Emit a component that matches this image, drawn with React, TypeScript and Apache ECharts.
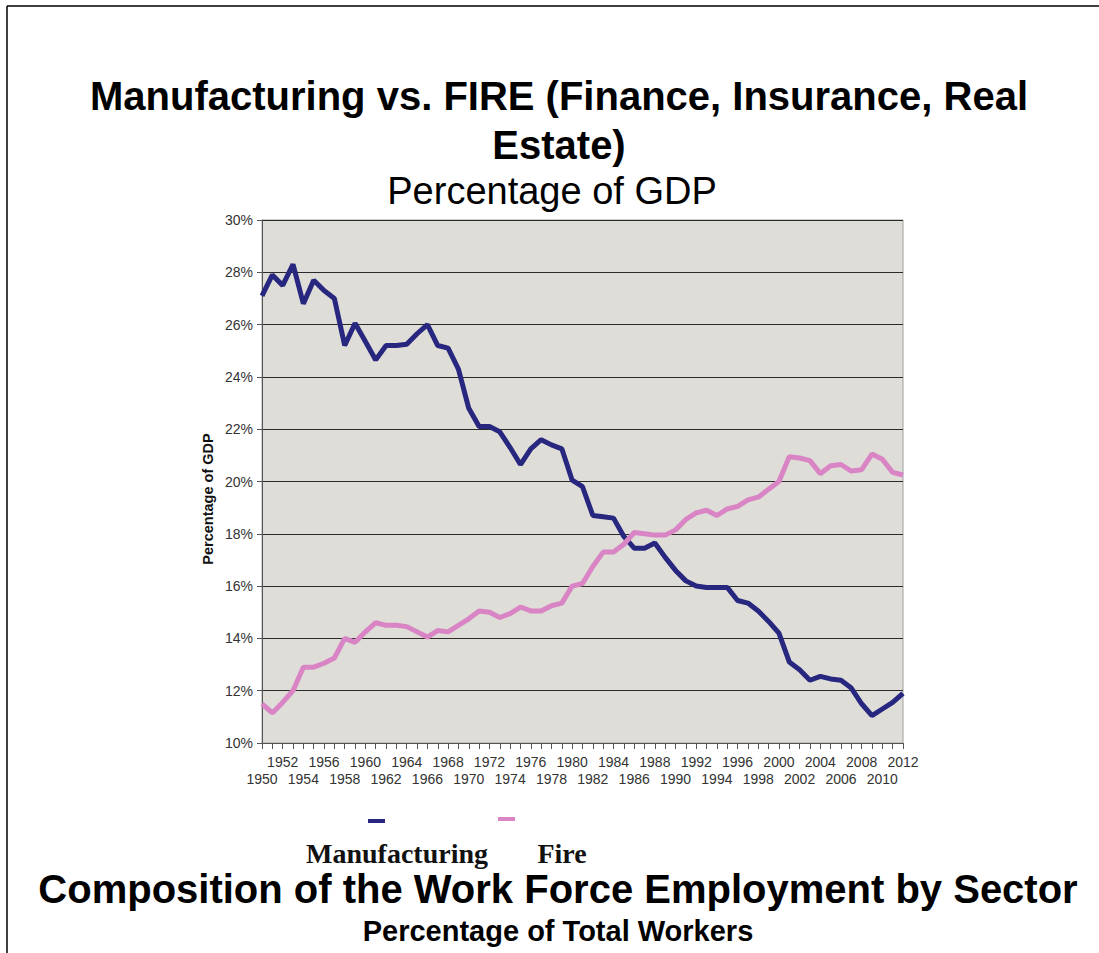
import React, { useEffect, useRef } from "react";
import * as echarts from "echarts";

const years: string[] = [];
for (let y = 1950; y <= 2012; y++) years.push(String(y));

const manufacturing = [
  27.1, 27.9, 27.5, 28.3, 26.8, 27.7, 27.3, 27.0, 25.2, 26.05,
  25.35, 24.65, 25.2, 25.2, 25.25, 25.65, 26.0, 25.2, 25.1, 24.3,
  22.8, 22.1, 22.1, 21.9, 21.3, 20.65, 21.25, 21.6, 21.4, 21.25,
  20.05, 19.8, 18.7, 18.65, 18.6, 17.9, 17.45, 17.45, 17.65, 17.1,
  16.6, 16.2, 16.0, 15.95, 15.95, 15.95, 15.45, 15.35, 15.05, 14.65,
  14.2, 13.1, 12.8, 12.4, 12.55, 12.45, 12.4, 12.1, 11.5, 11.05,
  11.3, 11.55, 11.9,
];

const fire = [
  11.5, 11.15, 11.55, 12.0, 12.9, 12.9, 13.05, 13.25, 14.0, 13.85,
  14.25, 14.6, 14.5, 14.5, 14.45, 14.25, 14.05, 14.3, 14.25, 14.5,
  14.75, 15.05, 15.0, 14.8, 14.95, 15.2, 15.05, 15.05, 15.25, 15.35,
  16.0, 16.1, 16.75, 17.3, 17.3, 17.6, 18.05, 18.0, 17.95, 17.95,
  18.15, 18.55, 18.8, 18.9, 18.7, 18.95, 19.05, 19.3, 19.4, 19.7,
  20.0, 20.95, 20.9, 20.8, 20.3, 20.6, 20.65, 20.4, 20.45, 21.05,
  20.85, 20.35, 20.25,
];

const seriesNames = ["Manufacturing", "Fire"];
const NAVY = "#27277f";
const PINK = "#d984c4";

export default function App() {
  const ref = useRef<HTMLDivElement>(null);
  useEffect(() => {
    if (!ref.current) return;
    const chart = echarts.init(ref.current, null, { renderer: "svg" });
    const sans = "'Liberation Sans', Arial, sans-serif";
    const serif = "'Liberation Serif', 'Times New Roman', serif";
    chart.setOption({
      animation: false,
      backgroundColor: "#ffffff",
      grid: {
        left: 262,
        right: 196,
        top: 220,
        bottom: 210,
        show: true,
        backgroundColor: "#dfddd7",
        borderColor: "#a0a0a0",
        borderWidth: 1,
      },
      xAxis: {
        type: "category",
        data: years,
        boundaryGap: false,
        axisLine: { show: true, lineStyle: { color: "#555", width: 1 } },
        axisTick: { show: true, interval: 0, length: 6, lineStyle: { color: "#555" } },
        axisLabel: {
          interval: 0,
          hideOverlap: false,
          fontFamily: sans,
          fontSize: 14,
          color: "#333",
          lineHeight: 17,
          margin: 10,
          formatter: (v: string) => {
            const d = Number(v) - 1950;
            if (d % 4 === 0) return "\n" + v;
            if (d % 4 === 2) return v;
            return "";
          },
        },
        splitLine: { show: false },
      },
      yAxis: {
        type: "value",
        min: 10,
        max: 30,
        interval: 2,
        axisLine: { show: true, lineStyle: { color: "#555", width: 1 } },
        axisTick: { show: true, length: 5, lineStyle: { color: "#555" } },
        axisLabel: {
          formatter: "{value}%",
          fontFamily: sans,
          fontSize: 14,
          color: "#333",
          margin: 9,
        },
        splitLine: { show: true, lineStyle: { color: "#2a2a2a", width: 1.2 } },
      },
      series: [
        {
          name: seriesNames[0],
          type: "line",
          data: manufacturing,
          symbol: "none",
          lineStyle: { color: NAVY, width: 5 },
          itemStyle: { color: NAVY },
        },
        {
          name: seriesNames[1],
          type: "line",
          data: fire,
          symbol: "none",
          lineStyle: { color: PINK, width: 5 },
          itemStyle: { color: PINK },
        },
      ],
      graphic: [
        { type: "line", shape: { x1: 7, y1: 6, x2: 1099, y2: 6 }, style: { stroke: "#000", lineWidth: 1.5 } },
        { type: "line", shape: { x1: 7, y1: 6, x2: 7, y2: 953 }, style: { stroke: "#000", lineWidth: 1.5 } },
        {
          type: "text",
          x: 208,
          y: 499,
          rotation: Math.PI / 2,
          style: {
            text: "Percentage of GDP",
            font: `bold 14.5px ${sans}`,
            fill: "#111",
            textAlign: "center",
            textVerticalAlign: "middle",
          },
        },
        {
          type: "text",
          x: 559,
          y: 96,
          style: {
            text: "Manufacturing vs. FIRE (Finance, Insurance, Real",
            font: `bold 40px ${sans}`,
            fill: "#000",
            textAlign: "center",
            textVerticalAlign: "middle",
          },
        },
        {
          type: "text",
          x: 559,
          y: 145,
          style: {
            text: "Estate)",
            font: `bold 40px ${sans}`,
            fill: "#000",
            textAlign: "center",
            textVerticalAlign: "middle",
          },
        },
        {
          type: "text",
          x: 552,
          y: 191,
          style: {
            text: "Percentage of GDP",
            font: `38px ${sans}`,
            fill: "#000",
            textAlign: "center",
            textVerticalAlign: "middle",
          },
        },
        { type: "rect", shape: { x: 368, y: 819, width: 17, height: 4 }, style: { fill: NAVY } },
        { type: "rect", shape: { x: 498, y: 817, width: 17, height: 4 }, style: { fill: PINK } },
        {
          type: "text",
          x: 397,
          y: 853,
          style: {
            text: seriesNames[0],
            font: `bold 28px ${serif}`,
            fill: "#111",
            textAlign: "center",
            textVerticalAlign: "middle",
          },
        },
        {
          type: "text",
          x: 562,
          y: 853,
          style: {
            text: seriesNames[1],
            font: `bold 28px ${serif}`,
            fill: "#111",
            textAlign: "center",
            textVerticalAlign: "middle",
          },
        },
        {
          type: "text",
          x: 558,
          y: 889,
          style: {
            text: "Composition of the Work Force Employment by Sector",
            font: `bold 40px ${sans}`,
            fill: "#000",
            textAlign: "center",
            textVerticalAlign: "middle",
          },
        },
        {
          type: "text",
          x: 558,
          y: 931,
          style: {
            text: "Percentage of Total Workers",
            font: `bold 29px ${sans}`,
            fill: "#000",
            textAlign: "center",
            textVerticalAlign: "middle",
          },
        },
      ],
    });
    return () => chart.dispose();
  }, []);
  return (
    <div
      ref={ref}
      style={{ position: "absolute", left: 0, top: 0, width: 1099, height: 953 }}
    />
  );
}
